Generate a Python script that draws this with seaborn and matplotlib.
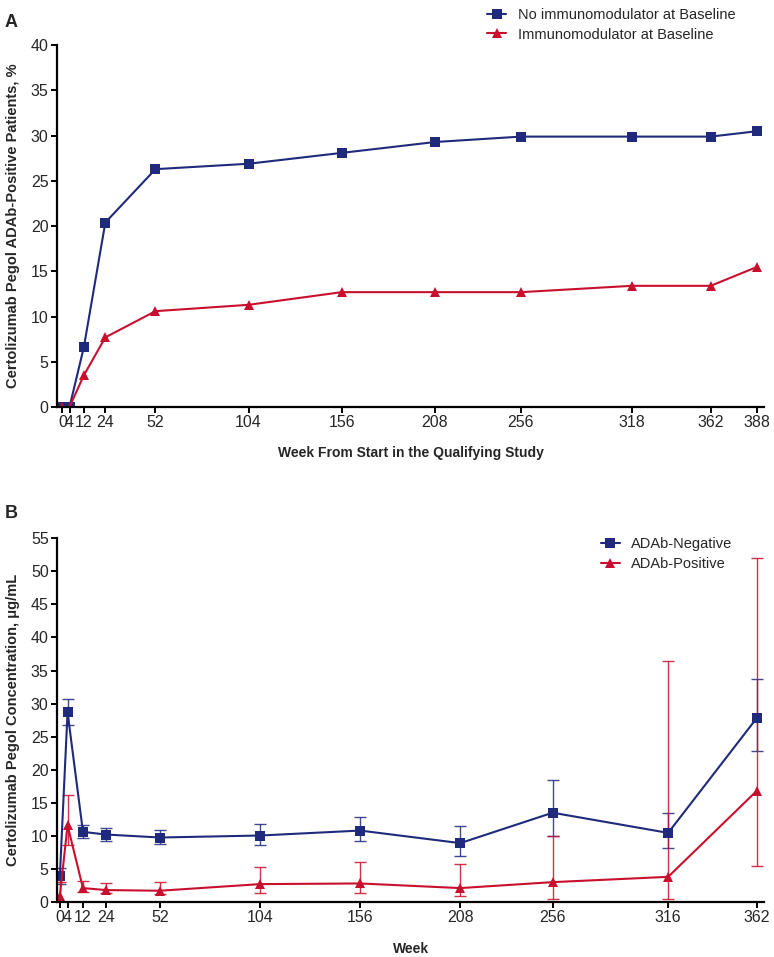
import pandas as pd
import numpy as np
import matplotlib
matplotlib.use('Agg')
import matplotlib.pyplot as plt
import seaborn as sns

# Panel A data
weeks_a = [0, 4, 12, 24, 52, 104, 156, 208, 256, 318, 362, 388]
no_immuno = [0, 0, 6.6, 20.4, 26.3, 26.9, 28.1, 29.3, 29.9, 29.9, 29.9, 30.5]
immuno = [0, 0, 3.5, 7.7, 10.6, 11.3, 12.7, 12.7, 12.7, 13.4, 13.4, 15.5]

# Panel B data (value, lower, upper)
weeks_b = [0, 4, 12, 24, 52, 104, 156, 208, 256, 316, 362]
neg_val = [3.9, 28.7, 10.6, 10.2, 9.75, 10.05, 10.8, 8.9, 13.5, 10.45, 27.8]
neg_lo = [2.7, 26.8, 9.7, 9.2, 8.7, 8.6, 9.15, 7.0, 10.0, 8.2, 22.9]
neg_hi = [5.2, 30.7, 11.6, 11.2, 10.9, 11.8, 12.8, 11.5, 18.4, 13.5, 33.7]
pos_val = [0.9, 11.6, 2.1, 1.8, 1.7, 2.7, 2.8, 2.1, 3.0, 3.8, 16.8]
pos_lo = [0.0, 8.6, 1.5, 1.3, 1.2, 1.4, 1.3, 0.9, 0.5, 0.4, 5.5]
pos_hi = [3.0, 16.2, 3.1, 2.9, 3.0, 5.3, 6.1, 5.7, 10.0, 36.4, 52.0]

blue = '#1f2a7c'
red = '#c8102e'

sns.set_style('ticks')
plt.rcParams['font.family'] = ['Liberation Sans', 'DejaVu Sans']
plt.rcParams['axes.linewidth'] = 1.6

df_a = pd.DataFrame({
    'week': weeks_a * 2,
    'pct': no_immuno + immuno,
    'group': ['No immunomodulator at Baseline'] * len(weeks_a) + ['Immunomodulator at Baseline'] * len(weeks_a),
})
df_b = pd.DataFrame({
    'week': weeks_b * 2,
    'conc': neg_val + pos_val,
    'group': ['ADAb-Negative'] * len(weeks_b) + ['ADAb-Positive'] * len(weeks_b),
})

fig = plt.figure(figsize=(7.74, 9.57), dpi=100)
ax1 = fig.add_axes([0.0736, 0.5747, 0.914, 0.378])
ax2 = fig.add_axes([0.0736, 0.0575, 0.914, 0.380])

# --- Panel A ---
sns.lineplot(data=df_a, x='week', y='pct', hue='group', style='group',
             markers={'No immunomodulator at Baseline': 's', 'Immunomodulator at Baseline': '^'},
             dashes=False, palette={'No immunomodulator at Baseline': blue, 'Immunomodulator at Baseline': red},
             markersize=7, markeredgewidth=0, linewidth=1.5, ax=ax1)
ax1.set_xlim(-3, 392)
ax1.set_ylim(0, 40)
ax1.set_xticks(weeks_a)
ax1.set_yticks(np.arange(0, 41, 5))
ax1.set_xlabel('Week From Start in the Qualifying Study', fontsize=10, fontweight='bold', labelpad=11)
ax1.set_ylabel('Certolizumab Pegol ADAb-Positive Patients, %', fontsize=10.5, fontweight='bold', labelpad=8)
ax1.legend(loc='upper left', bbox_to_anchor=(0.59, 1.14), frameon=False, fontsize=10.5,
           handlelength=1.3, labelspacing=0.4, handletextpad=0.8)

# --- Panel B ---
for vals, lo, hi, col in [(neg_val, neg_lo, neg_hi, blue), (pos_val, pos_lo, pos_hi, red)]:
    v = np.array(vals)
    yerr = [v - np.array(lo), np.array(hi) - v]
    ax2.errorbar(weeks_b, v, yerr=yerr, fmt='none', ecolor=col, elinewidth=1.0,
                 capsize=4, capthick=1.0, alpha=0.85)
sns.lineplot(data=df_b, x='week', y='conc', hue='group', style='group',
             markers={'ADAb-Negative': 's', 'ADAb-Positive': '^'},
             dashes=False, palette={'ADAb-Negative': blue, 'ADAb-Positive': red},
             markersize=7, markeredgewidth=0, linewidth=1.5, ax=ax2)
ax2.set_xlim(-1.5, 366)
ax2.set_ylim(0, 55)
ax2.set_xticks(weeks_b)
ax2.set_yticks(np.arange(0, 56, 5))
ax2.set_xlabel('Week', fontsize=10, fontweight='bold', labelpad=12)
ax2.set_ylabel('Certolizumab Pegol Concentration, \u03bcg/mL', fontsize=10.5, fontweight='bold', labelpad=8)
ax2.legend(loc='upper left', bbox_to_anchor=(0.75, 1.04), frameon=False, fontsize=10.5,
           handlelength=1.3, labelspacing=0.4, handletextpad=0.8)

for ax in (ax1, ax2):
    sns.despine(ax=ax)
    ax.tick_params(axis='both', labelsize=11.5, width=1.4, length=4, color='black', pad=2)
    ax.spines['left'].set_color('black')
    ax.spines['bottom'].set_color('black')

fig.text(0.006, 0.985, 'A', fontsize=13, fontweight='bold', va='top')
fig.text(0.006, 0.472, 'B', fontsize=13, fontweight='bold', va='top')

fig.savefig('out.png', dpi=100)
